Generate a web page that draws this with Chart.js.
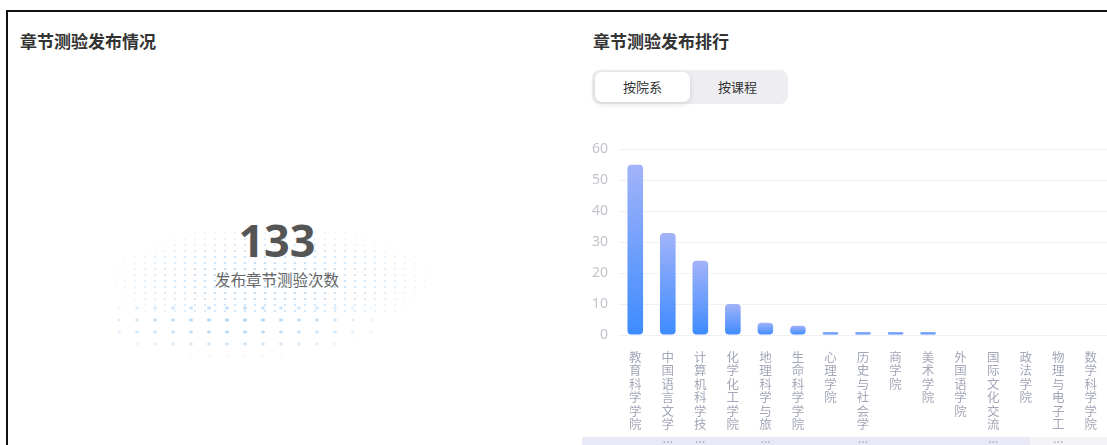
<!DOCTYPE html>
<html>
<head>
<meta charset="utf-8">
<script src="https://cdn.jsdelivr.net/npm/chart.js@4"></script>
<style>
    html, body { margin: 0; padding: 0; background: #fff; overflow: hidden; }
    body { width: 1107px; height: 445px; position: relative; font-family: "Noto Sans CJK SC", "Noto Sans", sans-serif; }
    .frame { position: absolute; left: 6px; top: 10px; width: 1110px; height: 450px; border-left: 2px solid #111; border-top: 2px solid #111; }
    .title { position: absolute; font-size: 17px; font-weight: bold; color: #333; top: 28px; }
    .dots { position: absolute; }
    .dots.fine { left: 100px; top: 200px; width: 340px; height: 115px;
        background-image: radial-gradient(ellipse 1.8px 1.2px at center, #a6d0f2 55%, transparent 100%);
        background-size: 10px 6px;
        -webkit-mask-image: radial-gradient(ellipse 50% 50% at 50% 70%, rgba(0,0,0,0.85) 0%, rgba(0,0,0,0.4) 65%, transparent 100%);
        mask-image: radial-gradient(ellipse 50% 50% at 50% 70%, rgba(0,0,0,0.85) 0%, rgba(0,0,0,0.4) 65%, transparent 100%); }
    .dots.coarse { left: 110px; top: 302px; width: 320px; height: 68px;
        background-image: radial-gradient(ellipse 2.6px 2px at center, #9ccbf1 55%, transparent 100%);
        background-size: 18px 12px;
        -webkit-mask-image: radial-gradient(ellipse 50% 55% at 40% 30%, rgba(0,0,0,0.9) 0%, rgba(0,0,0,0.45) 60%, transparent 100%);
        mask-image: radial-gradient(ellipse 50% 55% at 40% 30%, rgba(0,0,0,0.9) 0%, rgba(0,0,0,0.45) 60%, transparent 100%); }
    .big { position: absolute; left: 177px; width: 200px; text-align: center; top: 212px; font-family: "Open Sans", sans-serif; font-weight: bold; font-size: 45px; color: #555; line-height: 56px; }
    .sub { position: absolute; left: 157px; width: 240px; text-align: center; top: 268px; font-size: 15.5px; color: #666; }
    .tabs { position: absolute; left: 592px; top: 70px; width: 196px; height: 34px; background: #eeeef2; border-radius: 8px; }
    .tab { position: absolute; top: 2px; height: 30px; width: 95px; line-height: 30px; text-align: center; font-size: 13px; color: #333; }
    .tab.active { left: 3px; background: #fff; border-radius: 7px; box-shadow: 0 2px 6px rgba(0,0,0,0.12); }
    .tab.other { left: 98px; }
    .chart-box { position: absolute; left: 582px; top: 130px; width: 525px; height: 315px; }
    .scroll { position: absolute; left: 582px; top: 437px; width: 525px; height: 8px; background: #f3f3f8; }
    .scroll .thumb { position: absolute; left: 0; top: 0; width: 448px; height: 8px; background: #e9e8f6; }
</style>
</head>
<body>
<div class="frame"></div>
<div class="title" style="left:20px">章节测验发布情况</div>
<div class="title" style="left:593px">章节测验发布排行</div>
<div class="dots fine"></div>
<div class="dots coarse"></div>
<div class="big" id="total"></div>
<div class="sub">发布章节测验次数</div>
<div class="tabs">
    <div class="tab active">按院系</div>
    <div class="tab other">按课程</div>
</div>
<div class="scroll"><div class="thumb"></div></div>
<div class="chart-box"><canvas id="rank-chart" width="525" height="315"></canvas></div>

<script>
// Data
const colleges = ['教育科学学院', '中国语言文学学院', '计算机科学技术学院', '化学化工学院', '地理科学与旅游学院',
    '生命科学学院', '心理学院', '历史与社会学院', '商学院', '美术学院',
    '外国语学院', '国际文化交流学院', '政法学院', '物理与电子工程学院', '数学科学学院'];
const quizCounts = [55, 33, 24, 10, 4, 3, 1, 1, 1, 1, 0, 0, 0, 0, 0];
const yTicks = [0, 10, 20, 30, 40, 50, 60];
const totalQuizzes = 133;

document.getElementById('total').textContent = totalQuizzes;

// Vertical label: one char per line, cut to 6 chars
function verticalLabel(name) {
    const chars = Array.from(name);
    if (chars.length > 6) {
        return chars.slice(0, 6).concat(['...']);
    }
    return chars;
}

// Per-bar gradient, light at top, blue at bottom
function barGradient(context) {
    const chart = context.chart;
    if (!chart.chartArea || !chart.scales.y) return '#5a95fd';
    const v = context.raw || 0;
    const yTop = chart.scales.y.getPixelForValue(v);
    const yBase = chart.scales.y.getPixelForValue(0);
    const g = chart.ctx.createLinearGradient(0, yTop, 0, yBase === yTop ? yTop + 1 : yBase);
    g.addColorStop(0, '#a2b3f9');
    g.addColorStop(1, '#3d8bff');
    return g;
}

function createRankChart() {
    const canvas = document.getElementById('rank-chart');
    if (!canvas) return;

    new Chart(canvas, {
        type: 'bar',
        data: {
            labels: colleges,
            datasets: [{
                label: '发布次数',
                data: quizCounts,
                backgroundColor: barGradient,
                borderRadius: 4,
                borderSkipped: false,
                barPercentage: 0.48,
                categoryPercentage: 1
            }]
        },
        options: {
            responsive: false,
            animation: false,
            layout: { padding: { top: 18, right: 0, left: 0, bottom: 0 } },
            plugins: {
                legend: { display: false },
                tooltip: { enabled: false }
            },
            scales: {
                x: {
                    grid: { display: false },
                    border: { display: false },
                    afterFit: function(scale) { scale.height = 110; },
                    ticks: {
                        autoSkip: false,
                        maxRotation: 0,
                        minRotation: 0,
                        padding: 7,
                        color: '#a4a7b8',
                        font: { family: '"Noto Sans CJK SC", sans-serif', size: 12.5, lineHeight: '13.5px' },
                        callback: function(value) {
                            return verticalLabel(this.getLabelForValue(value));
                        }
                    }
                },
                y: {
                    min: yTicks[0],
                    max: yTicks[yTicks.length - 1],
                    afterFit: function(scale) { scale.width = 37; },
                    afterBuildTicks: function(scale) {
                        scale.ticks = yTicks.map(v => ({ value: v }));
                    },
                    border: { display: false },
                    grid: { color: '#f1f1f5', drawTicks: false },
                    ticks: {
                        padding: 11,
                        color: '#c3c3cb',
                        font: { family: '"Noto Sans", sans-serif', size: 14 }
                    }
                }
            }
        }
    });
}

document.addEventListener('DOMContentLoaded', function() {
    createRankChart();
});
</script>
</body>
</html>
